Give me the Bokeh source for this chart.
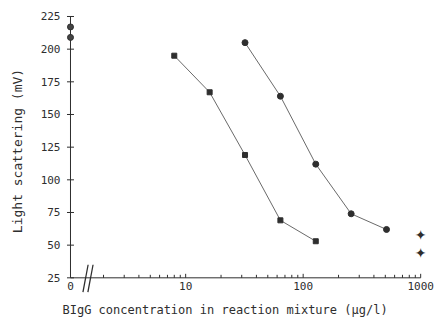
import numpy as np
from bokeh.plotting import figure
from bokeh.models import FixedTicker, Range1d, Title
from bokeh.core.properties import value
from bokeh.embed import file_html
from bokeh.resources import INLINE

# ---- data ----
zero_signal = [217, 209]                  # samples without BIgG (plotted at "0")
conc_squares = [8, 16, 32, 64, 128]       # µg/l
signal_squares = [195, 167, 119, 69, 53]  # mV
conc_circles = [32, 64, 128, 256, 512]
signal_circles = [205, 164, 112, 74, 62]
conc_stars = [1000, 1000]
signal_stars = [58, 44]
y_ticks = [25, 50, 75, 100, 125, 150, 175, 200, 225]
x_tick_values = [10, 100, 1000]
x_tick_labels = ["10", "100", "1000"]

# ---- layout constants ----
ZERO_POS = 0.02            # log10 position used for the "0" concentration (axis origin)
Y_BASE = 25                # y value of the x axis
BREAK_POS = [0.148, 0.19]  # "//" axis-break marks
BREAK_HALF_W = 0.022
BREAK_Y = (14, 35)
X_RANGE = (-0.014, 3.041)
Y_RANGE = (13, 231.12)
PX_PER_Y = 285 / (Y_RANGE[1] - Y_RANGE[0])

xs_zero = [ZERO_POS] * len(zero_signal)
xs_sq = list(np.log10(conc_squares))
xs_ci = list(np.log10(conc_circles))
xs_st = list(np.log10(conc_stars))
x_major_log = [float(np.log10(v)) for v in x_tick_values]
x_major = [ZERO_POS] + x_major_log
x_overrides = {ZERO_POS: "0"}
x_overrides.update({lv: t for lv, t in zip(x_major_log, x_tick_labels)})
minor = [d + float(np.log10(k)) for d in range(3) for k in range(2, 10)]

ink = "#2e2e2e"
line_col = "#6a6a6a"
mono = "DejaVu Sans Mono"

p = figure(width=435, height=323, output_backend="svg", toolbar_location=None,
           x_range=Range1d(*X_RANGE), y_range=Range1d(*Y_RANGE),
           min_border_left=66, min_border_right=10, min_border_top=8,
           min_border_bottom=30)
p.outline_line_color = None
p.xgrid.visible = False
p.ygrid.visible = False
p.background_fill_color = "white"
p.border_fill_color = "white"

# ---- axis lines and ticks drawn at the data origin ----
p.segment(x0=[ZERO_POS], y0=[y_ticks[0]], x1=[ZERO_POS], y1=[y_ticks[-1]],
          line_color=ink, line_width=1)
p.segment(x0=[ZERO_POS], y0=[Y_BASE], x1=[x_major_log[-1]], y1=[Y_BASE],
          line_color=ink, line_width=1)
p.scatter([ZERO_POS] * len(y_ticks), y_ticks, marker="dash", size=7,
          line_color=ink, line_width=1)
p.segment(x0=x_major_log, y0=[Y_BASE] * len(x_major_log), x1=x_major_log,
          y1=[Y_BASE + 4 / PX_PER_Y] * len(x_major_log), line_color=ink, line_width=1)
p.segment(x0=minor, y0=[Y_BASE] * len(minor), x1=minor,
          y1=[Y_BASE + 3 / PX_PER_Y] * len(minor), line_color=ink, line_width=1)
# axis break "//"
p.segment(x0=[b - BREAK_HALF_W for b in BREAK_POS], y0=[BREAK_Y[0]] * len(BREAK_POS),
          x1=[b + BREAK_HALF_W for b in BREAK_POS], y1=[BREAK_Y[1]] * len(BREAK_POS),
          line_color=ink, line_width=1.3)

# ---- data lines and markers ----
p.line(xs_sq, signal_squares, line_color=line_col, line_width=1)
p.line(xs_ci, signal_circles, line_color=line_col, line_width=1)
p.scatter(xs_sq, signal_squares, marker="square", size=5, fill_color=ink, line_color=ink)
p.scatter(xs_ci, signal_circles, marker="circle", size=6, fill_color=ink, line_color=ink)
p.scatter(xs_zero, zero_signal, marker="circle", size=6, fill_color="#444444", line_color=ink)
p.text(xs_st, signal_stars, text=["\u2726"] * len(xs_st), text_align="center",
       text_baseline="middle", text_font=value("DejaVu Sans"), text_font_size="14px",
       text_color=ink)

# ---- label-only axes at the frame edges ----
ya = p.yaxis[0]
ya.bounds = (25, 225)
ya.ticker = FixedTicker(ticks=y_ticks)
ya.axis_line_color = None
ya.major_tick_line_color = None
ya.minor_tick_line_color = None
ya.major_tick_in = 0
ya.major_tick_out = 0
ya.major_label_standoff = 6
ya.major_label_text_font = mono
ya.major_label_text_font_size = "11px"
ya.major_label_text_color = ink
ya.axis_label = "Light scattering (mV)"
ya.axis_label_text_font = mono
ya.axis_label_text_font_size = "13px"
ya.axis_label_text_font_style = "normal"
ya.axis_label_text_color = ink
ya.axis_label_standoff = 13

xa = p.xaxis[0]
xa.bounds = (ZERO_POS, 3)
xa.ticker = FixedTicker(ticks=x_major)
xa.major_label_overrides = x_overrides
xa.axis_line_color = None
xa.major_tick_line_color = None
xa.minor_tick_line_color = None
xa.major_tick_in = 0
xa.major_tick_out = 0
xa.major_label_standoff = -12
xa.major_label_text_font = mono
xa.major_label_text_font_size = "11px"
xa.major_label_text_color = ink

# x-axis title
p.add_layout(Title(text="BIgG concentration in reaction mixture (\u00b5g/l)", align="left",
                   offset=-4, standoff=14, text_font=mono, text_font_size="12px",
                   text_font_style="normal", text_color=ink), "below")

open("out.html", "w").write(file_html(p, INLINE))
